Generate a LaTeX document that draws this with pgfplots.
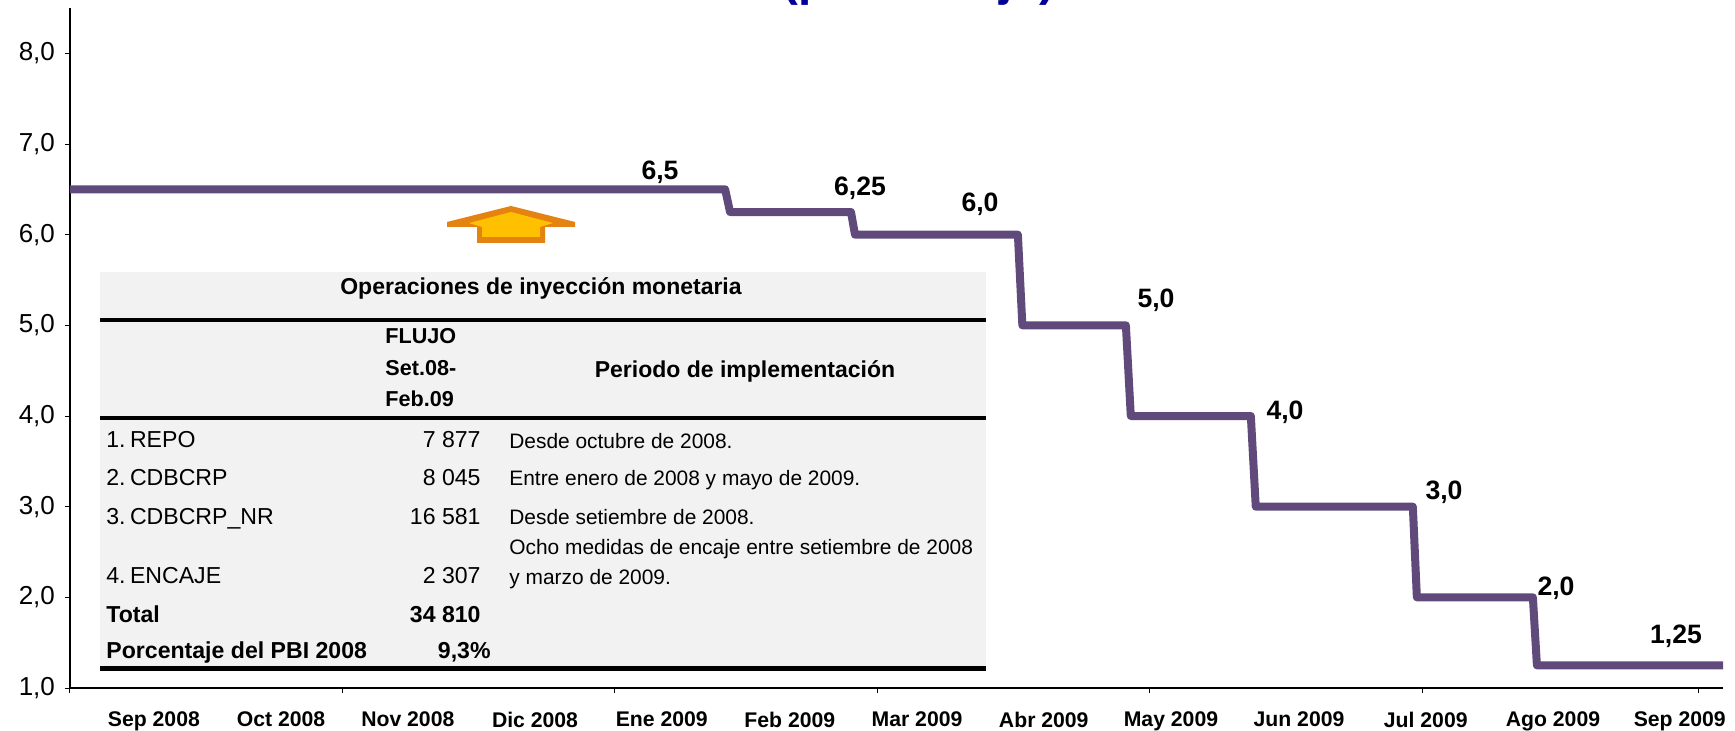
\documentclass[border=0pt]{standalone}
\usepackage{fontspec}
\setmainfont{Liberation Sans}
\usepackage{pgfplots}
\pgfplotsset{compat=1.18}

\definecolor{tasa}{HTML}{604A7B}
\definecolor{gristab}{HTML}{F2F2F2}
\definecolor{flechaborde}{HTML}{E48312}
\definecolor{flechafondo}{HTML}{FFC000}
\definecolor{azultit}{HTML}{000099}

% 1 unit of the picture = 1 pixel of the reference
\newcommand{\fs}[1]{\fontsize{#1}{#1}\selectfont}

\pgfplotstableread{
dia tasa
0 6.5
146.8 6.5
147.9 6.25
175.0 6.25
175.9 6.0
212.4 6.0
213.4 5.0
236.6 5.0
237.7 4.0
264.6 4.0
265.7 3.0
300.9 3.0
301.8 2.0
327.8 2.0
328.7 1.25
370.4 1.25
}\tasaref

\begin{document}
\begin{tikzpicture}[x=0.5pt,y=-0.5pt,
  tab/.style={inner sep=0pt,text height=8pt,text depth=2pt},
  etq/.style={inner sep=0pt,font=\fs{13.3}\bfseries}]
\path[use as bounding box] (0,0) rectangle (1735,731);

\begin{axis}[
  at={(35pt,-344pt)},anchor=origin,
  scale only axis,
  width=826.5pt,height=340pt,
  xmin=0,xmax=370.4,ymin=1,ymax=8.5,
  axis x line=bottom,axis y line=left,
  axis line style={-,black},
  x axis line style={line width=1pt},
  y axis line style={line width=0.6pt},
  xtick={0,61,122,181,242,303,365},
  xticklabels={},
  extra x ticks={18.8,47.3,75.7,104.2,132.6,161.3,189.8,218.2,246.7,275.4,303.8,332.3,360.7},
  extra x tick labels={Sep 2008,Oct 2008,Nov 2008,Dic 2008,Ene 2009,Feb 2009,Mar 2009,Abr 2009,May 2009,Jun 2009,Jul 2009,Ago 2009,Sep 2009},
  extra x tick style={major tick length=0pt,
    tick label style={font=\fs{10.6}\bfseries,yshift=-8.5pt}},
  ytick={1,2,3,4,5,6,7,8},
  yticklabel style={font=\fs{13},xshift=-1.5pt},
  /pgf/number format/.cd,assume math mode=true,use comma,fixed,fixed zerofill,precision=1,
  /pgfplots/.cd,
  major tick length=2.5pt,
  tick style={black,line width=0.5pt},
  tick align=outside,
]
\addplot[tasa,line width=4pt,line join=round] table[x=dia,y=tasa] {\tasaref};
\end{axis}

% titulo, cortado por el borde superior
\node[anchor=base,inner sep=0pt,text=azultit,font=\fs{23.8}\bfseries] at (919,-4) {(porcentaje)};

% etiquetas de la serie
\node[etq] at (660,172) {6,5};
\node[etq] at (860,188) {6,25};
\node[etq] at (980,204) {6,0};
\node[etq] at (1156,300) {5,0};
\node[etq] at (1285,412) {4,0};
\node[etq] at (1444,492) {3,0};
\node[etq] at (1556,588) {2,0};
\node[etq] at (1676,636) {1,25};

% flecha
\fill[flechaborde] (511,206)--(575,222)--(575,227)--(545,227)--(545,243)--(477,243)--(477,227)--(447,227)--(447,222)--cycle;
\fill[flechafondo] (511,212)--(553,223)--(540,227)--(540,237)--(482,237)--(482,227)--(469,223)--cycle;

% cuadro
\fill[gristab] (100,272) rectangle (986,668);
\fill[black] (100,318) rectangle (986,322);
\fill[black] (100,416) rectangle (986,420);
\fill[black] (100,666) rectangle (986,671);

\node[tab,font=\fs{11.5}\bfseries] at (541,289) {Operaciones de inyección monetaria};
\node[tab,anchor=west,font=\fs{10.8}\bfseries] at (385,338) {FLUJO};
\node[tab,anchor=west,font=\fs{10.8}\bfseries] at (385,370) {Set.08-};
\node[tab,anchor=west,font=\fs{10.8}\bfseries] at (385,401) {Feb.09};
\node[tab,font=\fs{11.5}\bfseries] at (745,372) {Periodo de implementación};

\node[tab,anchor=west,font=\fs{11.55}] at (106,442) {1.\kern2.2pt REPO};
\node[tab,anchor=west,font=\fs{11.55}] at (106,480) {2.\kern2.2pt CDBCRP};
\node[tab,anchor=west,font=\fs{11.55}] at (106,519) {3.\kern2.2pt CDBCRP\_NR};
\node[tab,anchor=west,font=\fs{11.55}] at (106,578) {4.\kern2.2pt ENCAJE};
\node[tab,anchor=west,font=\fs{11.55}\bfseries] at (106,617) {Total};
\node[tab,anchor=west,font=\fs{11.55}\bfseries] at (106,653) {Porcentaje del PBI 2008};

\node[tab,anchor=east,font=\fs{11.55}] at (481,442) {7 877};
\node[tab,anchor=east,font=\fs{11.55}] at (481,480) {8 045};
\node[tab,anchor=east,font=\fs{11.55}] at (481,519) {16 581};
\node[tab,anchor=east,font=\fs{11.55}] at (481,578) {2 307};
\node[tab,anchor=east,font=\fs{11.55}\bfseries] at (481,617) {34 810};
\node[tab,anchor=east,font=\fs{11.55}\bfseries] at (491,653) {9,3\%};

\node[tab,anchor=west,font=\fs{10.45}] at (509,443) {Desde octubre de 2008.};
\node[tab,anchor=west,font=\fs{10.45}] at (509,480) {Entre enero de 2008 y mayo de 2009.};
\node[tab,anchor=west,font=\fs{10.45}] at (509,519) {Desde setiembre de 2008.};
\node[tab,anchor=west,font=\fs{10.45}] at (509,549) {Ocho medidas de encaje entre setiembre de 2008};
\node[tab,anchor=west,font=\fs{10.45}] at (509,579) {y marzo de 2009.};
\end{tikzpicture}
\end{document}
